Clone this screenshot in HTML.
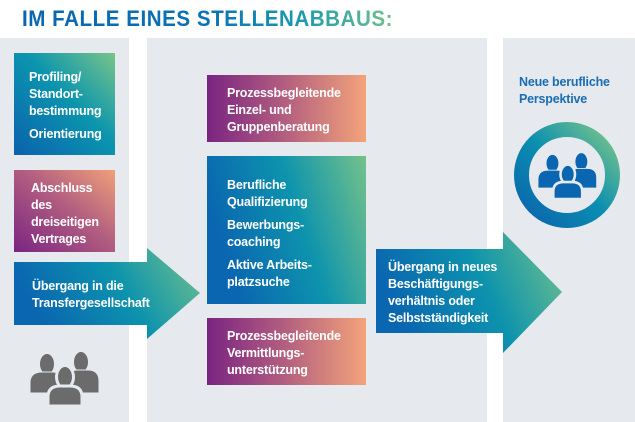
<!DOCTYPE html>
<html><head><meta charset="utf-8"><style>
html,body{margin:0;padding:0;background:#fff;}
svg{display:block;}
text{font-family:"Liberation Sans",sans-serif;font-weight:bold;}
.w{fill:#fff;font-size:12.5px;letter-spacing:-0.2px;}
</style></head><body>
<svg width="635" height="422" viewBox="0 0 635 422" xmlns="http://www.w3.org/2000/svg">
<defs>
<linearGradient id="tg" x1="0" y1="0" x2="1" y2="0">
<stop offset="0" stop-color="#0a66b0"/><stop offset="0.5" stop-color="#0a72b6"/><stop offset="0.75" stop-color="#1a9aae"/><stop offset="1" stop-color="#72c08c"/></linearGradient>
<linearGradient id="bg1" x1="0" y1="1" x2="1" y2="0">
<stop offset="0" stop-color="#0a62ad"/><stop offset="0.55" stop-color="#0b95ae"/><stop offset="1" stop-color="#78c48a"/></linearGradient>
<linearGradient id="bgh" x1="0" y1="0.3" x2="1" y2="0">
<stop offset="0" stop-color="#0a66b0"/><stop offset="0.5" stop-color="#0d93ad"/><stop offset="1" stop-color="#74c28b"/></linearGradient>
<linearGradient id="pg" x1="0" y1="0" x2="1" y2="0">
<stop offset="0" stop-color="#7a2482"/><stop offset="0.5" stop-color="#b4607f"/><stop offset="1" stop-color="#f3a37a"/></linearGradient>
<linearGradient id="pg2" x1="0" y1="1" x2="1" y2="0">
<stop offset="0" stop-color="#7a2482"/><stop offset="0.55" stop-color="#b35f80"/><stop offset="1" stop-color="#f0a07a"/></linearGradient>
<linearGradient id="rg" x1="0" y1="1" x2="1" y2="0">
<stop offset="0" stop-color="#0a62ad"/><stop offset="0.5" stop-color="#0a8fb0"/><stop offset="1" stop-color="#7ac58a"/></linearGradient>
<g id="ppl">
<ellipse cx="17" cy="11" rx="7.5" ry="10.5"/>
<path d="M0 40 V30 Q0 19 12 19 H22 Q33 19 33 30 V40 Z"/>
<ellipse cx="51" cy="9" rx="7.5" ry="10.5"/>
<path d="M37 40 V28 Q37 17 48 17 H58 Q69 17 69 28 V40 Z"/>
<g stroke-width="3">
<ellipse cx="35" cy="24" rx="8.5" ry="11.5"/>
<path d="M18 53 V44 Q18 33 30 33 H40 Q52 33 52 44 V53 Z"/>
</g>
</g>
</defs>
<text x="22" y="26" font-size="22.5" fill="url(#tg)" letter-spacing="0.6" textLength="371" lengthAdjust="spacingAndGlyphs">IM FALLE EINES STELLENABBAUS:</text>
<rect x="0" y="38" width="129" height="384" fill="#e6e9ed"/>
<rect x="147" y="38" width="340" height="384" fill="#e6e9ed"/>
<rect x="503" y="38" width="132" height="384" fill="#e6e9ed"/>

<rect x="14" y="53" width="101" height="102" fill="url(#bg1)"/>
<text class="w"><tspan x="29" y="81">Profiling/</tspan><tspan x="29" y="98">Standort-</tspan><tspan x="29" y="115">bestimmung</tspan><tspan x="29" y="138">Orientierung</tspan></text>

<rect x="14" y="170" width="101" height="82" fill="url(#pg2)"/>
<text class="w"><tspan x="31" y="192">Abschluss</tspan><tspan x="31" y="209">des</tspan><tspan x="31" y="226">dreiseitigen</tspan><tspan x="31" y="243">Vertrages</tspan></text>

<path d="M14 262 H147 V248 L200 293 L147 339 V325 H14 Z" fill="url(#bgh)"/>
<text class="w"><tspan x="32" y="290">Übergang in die</tspan><tspan x="32" y="307">Transfergesellschaft</tspan></text>

<g fill="#6b6b6b" stroke="#e6e9ed"><use href="#ppl" transform="translate(30,353)"/></g>

<rect x="207" y="75" width="159" height="67" fill="url(#pg)"/>
<text class="w"><tspan x="227" y="97">Prozessbegleitende</tspan><tspan x="227" y="114">Einzel- und</tspan><tspan x="227" y="131">Gruppenberatung</tspan></text>

<rect x="207" y="156" width="159" height="148" fill="url(#bgh)"/>
<text class="w"><tspan x="227" y="189">Berufliche</tspan><tspan x="227" y="206">Qualifizierung</tspan><tspan x="227" y="229">Bewerbungs-</tspan><tspan x="227" y="246">coaching</tspan><tspan x="227" y="269">Aktive Arbeits-</tspan><tspan x="227" y="286">platzsuche</tspan></text>

<rect x="207" y="318" width="159" height="67" fill="url(#pg)"/>
<text class="w"><tspan x="227" y="340">Prozessbegleitende</tspan><tspan x="227" y="357">Vermittlungs-</tspan><tspan x="227" y="374">unterstützung</tspan></text>

<path d="M376 249 H503 V232 L562 292 L503 353 V333 H376 Z" fill="url(#bgh)"/>
<text class="w"><tspan x="388" y="271">Übergang in neues</tspan><tspan x="388" y="288">Beschäftigungs-</tspan><tspan x="388" y="305">verhältnis oder</tspan><tspan x="388" y="322">Selbstständigkeit</tspan></text>

<text font-size="12.5" fill="#1a6db4" letter-spacing="-0.2"><tspan x="519" y="86">Neue berufliche</tspan><tspan x="519" y="103">Perspektive</tspan></text>

<circle cx="567" cy="175" r="45.5" fill="none" stroke="url(#rg)" stroke-width="15"/>
<g fill="#0a66b0" stroke="#e6e9ed"><use href="#ppl" transform="translate(538,154) scale(0.85)"/></g>
</svg>
</body></html>
